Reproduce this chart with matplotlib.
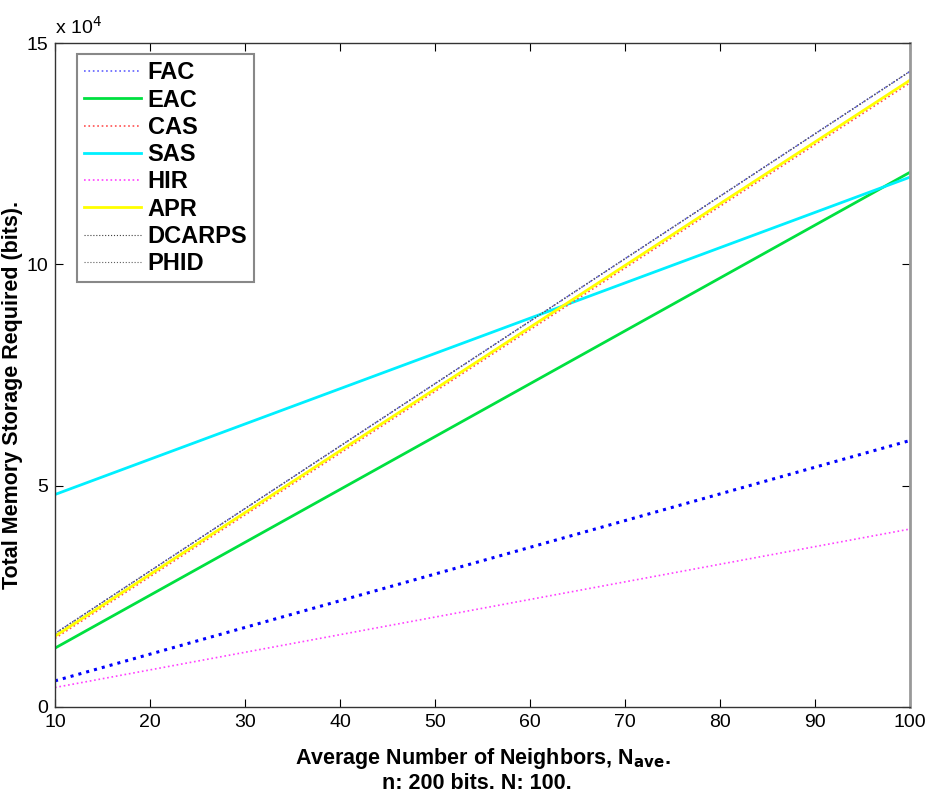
import matplotlib
matplotlib.use('Agg')
import matplotlib.pyplot as plt

plt.rcParams['font.family'] = ['Liberation Sans', 'DejaVu Sans']

# end points (all lines are straight)
nave = [10, 100]
fac = [16600, 143600]
eac = [13300, 120800]
cas = [15500, 141000]
sas = [48000, 119700]
hir = [4400, 40200]
apr = [16000, 141600]
dcarps = [16600, 143600]
phid = [16600, 143600]
# lower blue dotted line, no legend entry
extra = [5900, 60200]

fig = plt.figure(figsize=(9.26, 7.94), dpi=100)
ax = fig.add_axes([0.0594, 0.1096, 0.9233, 0.8362])

ax.plot(nave, extra, color='#0000ff', ls=':', lw=2.2)
l_hir, = ax.plot(nave, hir, color='#ff40ff', ls=':', lw=1.2)
l_fac, = ax.plot(nave, fac, color='#6060ff', ls=':', lw=1.2)
l_eac, = ax.plot(nave, eac, color='#00e040', ls='-', lw=2)
l_sas, = ax.plot(nave, sas, color='#00f0ff', ls='-', lw=2)
l_cas, = ax.plot(nave, cas, color='#ff5050', ls=':', lw=1.2)
l_apr, = ax.plot(nave, apr, color='#ffff00', ls='-', lw=2)
l_dc, = ax.plot(nave, dcarps, color='#404040', ls=':', lw=0.8)
l_ph, = ax.plot(nave, phid, color='#606060', ls=':', lw=0.8)

ax.set_xlim(10, 100)
ax.set_ylim(0, 150000)
ax.set_xticks(range(10, 101, 10))
ax.set_yticks([0, 50000, 100000, 150000])
ax.set_yticklabels(['0', '5', '10', '15'])
ax.tick_params(direction='in', length=6, labelsize=14, top=True, right=True, pad=5)
for s in ax.spines.values():
    s.set_color('#333333')
    s.set_linewidth(1)
ax.spines['right'].set_color('#999999')
ax.spines['right'].set_linewidth(2)

ax.text(0.0, 1.008, r'x 10$^{4}$', transform=ax.transAxes, fontsize=14, ha='left', va='bottom')

ax.set_xlabel(r'Average Number of Neighbors, N$_{\mathbf{ave}}$.', fontsize=15.5, fontweight='bold', labelpad=11)
ax.set_ylabel('Total Memory Storage Required (bits).', fontsize=15.5, fontweight='bold')
ax.yaxis.set_label_coords(-0.037, 0.47)
fig.text(0.5145, 0.006, 'n: 200 bits. N: 100.', fontsize=15.5, fontweight='bold', ha='center')

leg = ax.legend([l_fac, l_eac, l_cas, l_sas, l_hir, l_apr, l_dc, l_ph],
                ['FAC', 'EAC', 'CAS', 'SAS', 'HIR', 'APR', 'DCARPS', 'PHID'],
                loc='upper left', bbox_to_anchor=(0.02, 0.99),
                prop={'size': 17, 'weight': 'bold'}, fancybox=False,
                handlelength=2.4, handletextpad=0.3, labelspacing=0.18,
                borderpad=0.3, borderaxespad=0.2)
leg.get_frame().set_edgecolor('#888888')
leg.get_frame().set_linewidth(1.5)
leg.get_frame().set_alpha(1)

fig.savefig('out.png', dpi=100)
